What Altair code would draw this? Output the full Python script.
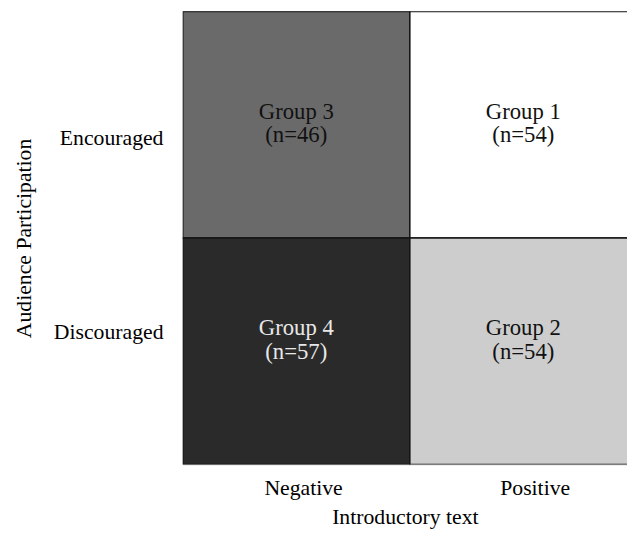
import altair as alt
import pandas as pd

# Data
intro_levels = ["Negative", "Positive"]
part_levels = ["Discouraged", "Encouraged"]   # bottom row, top row
intro = ["Negative", "Positive", "Negative", "Positive"]
participation = ["Encouraged", "Encouraged", "Discouraged", "Discouraged"]
groups = ["Group 3", "Group 1", "Group 4", "Group 2"]
n_values = [46, 54, 57, 54]
fills = ["#6a6a6a", "#ffffff", "#2a2a2a", "#cdcdcd"]

rows = []
for i, g in enumerate(groups):
    xi = intro_levels.index(intro[i])
    yi = part_levels.index(participation[i])
    rows.append({
        "intro": intro[i], "part": participation[i], "group": g,
        "x0": xi, "x1": xi + 1, "y0": yi, "y1": yi + 1,
        "xc": xi + 0.5, "yc": yi + 0.5,
        "label": f"{g}\n(n={n_values[i]})",
    })
df = pd.DataFrame(rows)

# layout: axis label placement (cell units), nudged as in the original figure
x_label_pos = [0.5 + 0.03, 1.5 + 0.05]
y_label_pos = [0.5 + 0.087, 1.5 - 0.055]

W, H = 450, 459
cell_w = 230
x_scale = alt.Scale(domain=[0, W / cell_w], nice=False, zero=False)
y_scale = alt.Scale(domain=[0, 2], nice=False, zero=False)

font = "Liberation Serif"

x_axis = alt.Axis(
    title="Introductory text", values=x_label_pos,
    labelExpr="datum.value < 1 ? 'Negative' : 'Positive'",
    domain=False, ticks=False, grid=False, labelPadding=13, titlePadding=9,
    labelFont=font, titleFont=font, labelFontSize=22, titleFontSize=22,
    titleFontWeight="normal", labelColor="black", titleColor="black",
    labelFlush=False,
)
y_axis = alt.Axis(
    title="Audience Participation", values=y_label_pos,
    labelExpr="datum.value > 1 ? 'Encouraged' : 'Discouraged'",
    domain=False, ticks=False, grid=False, labelPadding=20, titlePadding=18,
    labelFont=font, titleFont=font, labelFontSize=22, titleFontSize=22,
    titleFontWeight="normal", labelColor="black", titleColor="black",
    labelFlush=False,
)

base = alt.Chart(df)

rects = base.mark_rect(stroke="#151515", strokeWidth=1.6, clip=True).encode(
    x=alt.X("x0:Q", scale=x_scale, axis=x_axis),
    x2="x1:Q",
    y=alt.Y("y0:Q", scale=y_scale, axis=y_axis),
    y2="y1:Q",
    fill=alt.Fill("group:N", scale=alt.Scale(domain=groups, range=fills), legend=None),
)

text_color = alt.condition(alt.datum.group == "Group 4", alt.value("#e8e8e8"), alt.value("#111111"))

def text_layer(row, dy):
    return base.transform_filter(alt.datum.part == row).mark_text(
        font=font, fontSize=23, lineBreak="\n", lineHeight=24,
        baseline="middle", align="center", dy=dy,
    ).encode(
        x=alt.X("xc:Q", scale=x_scale),
        y=alt.Y("yc:Q", scale=y_scale),
        text="label:N",
        color=text_color,
    )

texts_top = text_layer("Encouraged", -13)
texts_bottom = text_layer("Discouraged", -23)

chart = (rects + texts_top + texts_bottom).properties(
    width=W, height=H,
    autosize=alt.AutoSizeParams(type="none"),
    padding={"left": 177, "top": 0, "right": 0, "bottom": 70},
).configure_view(stroke=None).configure(background="white")

chart.save("out.html", embed_options={"renderer": "svg", "actions": False})
